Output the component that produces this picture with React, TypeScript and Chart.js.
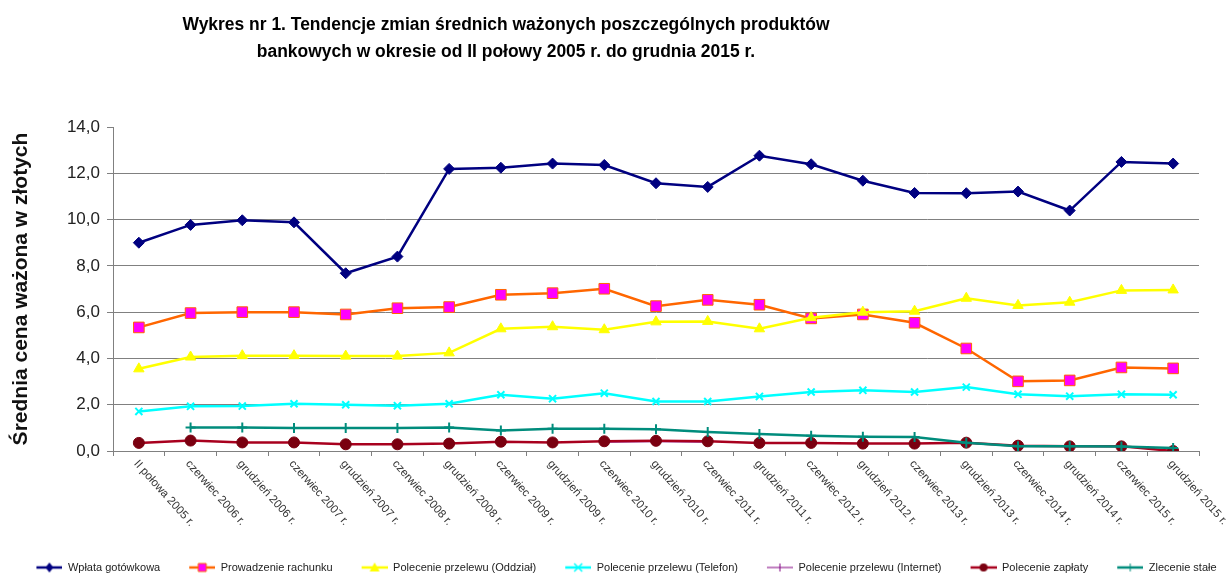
import React, { useEffect, useRef } from 'react';
import { Chart, registerables } from 'chart.js';

Chart.register(...registerables);

const titleLines = [
  'Wykres nr 1. Tendencje zmian średnich ważonych poszczególnych produktów',
  'bankowych w okresie od II połowy 2005 r. do grudnia 2015 r.',
];

const yAxisTitle = 'Średnia cena ważona w złotych';

const categories = [
  'II połowa 2005 r.', 'czerwiec 2006 r.', 'grudzień 2006 r.', 'czerwiec 2007 r.',
  'grudzień 2007 r.', 'czerwiec 2008 r.', 'grudzień 2008 r.', 'czerwiec 2009 r.',
  'grudzień 2009 r.', 'czerwiec 2010 r.', 'grudzień 2010 r.', 'czerwiec 2011 r.',
  'grudzień 2011 r.', 'czerwiec 2012 r.', 'grudzień 2012 r.', 'czerwiec 2013 r.',
  'grudzień 2013 r.', 'czerwiec 2014 r.', 'grudzień 2014 r.', 'czerwiec 2015 r.',
  'grudzień 2015 r.',
];

const seriesNames = [
  'Wpłata gotówkowa',
  'Prowadzenie rachunku',
  'Polecenie przelewu (Oddział)',
  'Polecenie przelewu (Telefon)',
  'Polecenie przelewu (Internet)',
  'Polecenie zapłaty',
  'Zlecenie stałe',
];

const wplataGotowkowa = [9.0, 9.77, 9.97, 9.88, 7.68, 8.4, 12.19, 12.24, 12.42, 12.36, 11.57, 11.41, 12.76, 12.39, 11.68, 11.15, 11.14, 11.21, 10.39, 12.49, 12.42];
const prowadzenieRachunku = [5.34, 5.96, 6.0, 6.0, 5.9, 6.17, 6.22, 6.75, 6.82, 7.01, 6.26, 6.53, 6.32, 5.73, 5.9, 5.54, 4.43, 3.01, 3.05, 3.61, 3.57];
const przelewOddzial = [3.55, 4.06, 4.12, 4.12, 4.1, 4.1, 4.24, 5.28, 5.37, 5.24, 5.58, 5.6, 5.28, 5.76, 6.0, 6.04, 6.6, 6.29, 6.43, 6.94, 6.96];
const przelewTelefon = [1.71, 1.93, 1.94, 2.04, 2.0, 1.96, 2.04, 2.43, 2.26, 2.5, 2.14, 2.14, 2.36, 2.55, 2.62, 2.55, 2.76, 2.45, 2.37, 2.45, 2.43];
const przelewInternet = [null, null, null, null, null, null, null, null, null, 0.38, 0.4, 0.38, null, null, null, null, null, null, null, null, null];
const polecenieZaplaty = [0.35, 0.45, 0.37, 0.37, 0.29, 0.29, 0.32, 0.4, 0.37, 0.42, 0.44, 0.42, 0.35, 0.35, 0.32, 0.32, 0.36, 0.23, 0.2, 0.2, 0.0];
const zlecenieStale = [null, 1.02, 1.02, 0.99, 0.99, 0.99, 1.02, 0.89, 0.96, 0.96, 0.94, 0.82, 0.73, 0.66, 0.62, 0.6, 0.36, 0.2, 0.2, 0.19, 0.13];

const seriesValues = [wplataGotowkowa, prowadzenieRachunku, przelewOddzial, przelewTelefon, przelewInternet, polecenieZaplaty, zlecenieStale];

const styles = [
  { line: '#000080', fill: '#000080', stroke: '#000080', point: 'rectRot', radius: 5.5, width: 2.5, legend: 'diamond' },
  { line: '#FF6600', fill: '#FF00FF', stroke: '#FF6600', point: 'rect', radius: 7.5, width: 2.5, legend: 'square' },
  { line: '#FFFF00', fill: '#FFFF00', stroke: '#FFFF00', point: 'triangle', radius: 6, width: 2.5, legend: 'triangle' },
  { line: '#00FFFF', fill: '#00FFFF', stroke: '#00FFFF', point: 'crossRot', radius: 5, width: 2.5, legend: 'x' },
  { line: '#800080', fill: '#800080', stroke: '#800080', point: 'cross', radius: 4, width: 1, legend: 'plus' },
  { line: '#A8001E', fill: '#7A0010', stroke: '#7A0010', point: 'circle', radius: 5.5, width: 2.5, legend: 'circle' },
  { line: '#008C7C', fill: '#008C7C', stroke: '#008C7C', point: 'cross', radius: 5, width: 2.5, legend: 'plus' },
];

const FONT = '"Liberation Sans", Arial, sans-serif';
const GRID = '#808080';
const ICON_W = 51;

function makeLegendIcon(s: any): HTMLCanvasElement {
  const c = document.createElement('canvas');
  c.width = ICON_W;
  c.height = 14;
  const g = c.getContext('2d')!;
  const cy = 7;
  const x1 = ICON_W;
  const x0 = x1 - 26;
  const cx = (x0 + x1) / 2;
  g.strokeStyle = s.line;
  g.lineWidth = s.width >= 2 ? 2.5 : 1;
  g.beginPath();
  g.moveTo(x0, cy);
  g.lineTo(x1, cy);
  g.stroke();
  g.fillStyle = s.fill;
  g.strokeStyle = s.stroke;
  g.lineWidth = 1.5;
  g.beginPath();
  switch (s.legend) {
    case 'diamond':
      g.moveTo(cx, cy - 5); g.lineTo(cx + 4, cy); g.lineTo(cx, cy + 5); g.lineTo(cx - 4, cy); g.closePath(); g.fill();
      break;
    case 'square':
      g.rect(cx - 4, cy - 4, 8, 8); g.fill(); g.lineWidth = 1; g.stroke();
      break;
    case 'triangle':
      g.moveTo(cx, cy - 5); g.lineTo(cx + 5, cy + 4); g.lineTo(cx - 5, cy + 4); g.closePath(); g.fill();
      break;
    case 'x':
      g.moveTo(cx - 4, cy - 4); g.lineTo(cx + 4, cy + 4); g.moveTo(cx + 4, cy - 4); g.lineTo(cx - 4, cy + 4); g.stroke();
      break;
    case 'plus':
      g.lineWidth = 1;
      g.moveTo(cx, cy - 4); g.lineTo(cx, cy + 4); g.stroke();
      break;
    case 'circle':
      g.arc(cx, cy, 4, 0, Math.PI * 2); g.fill();
      break;
  }
  return c;
}

const titlePlugin = {
  id: 'customTitle',
  afterDraw(chart: any) {
    const ctx = chart.ctx;
    ctx.save();
    ctx.font = `bold 18px ${FONT}`;
    ctx.fillStyle = '#000';
    ctx.textAlign = 'center';
    ctx.textBaseline = 'alphabetic';
    const w1 = ctx.measureText(titleLines[0]).width;
    const sx = 647 / w1;
    titleLines.forEach((line, i) => {
      ctx.save();
      ctx.translate(506, i === 0 ? 30 : 57);
      ctx.scale(sx, 1);
      ctx.fillText(line, 0, 0);
      ctx.restore();
    });
    ctx.restore();
  },
};

const xLabelPlugin = {
  id: 'diagXLabels',
  afterDraw(chart: any) {
    const xs = chart.scales.x;
    const ctx = chart.ctx;
    ctx.save();
    ctx.font = `11.5px ${FONT}`;
    ctx.fillStyle = '#333';
    ctx.textAlign = 'left';
    ctx.textBaseline = 'middle';
    categories.forEach((lab, i) => {
      const x = xs.getPixelForValue(i);
      ctx.save();
      ctx.translate(x - 3, xs.top + 11);
      ctx.rotate((48 * Math.PI) / 180);
      ctx.fillText(lab, 0, 0);
      ctx.restore();
    });
    ctx.restore();
  },
};

const legendShiftPlugin = {
  id: 'legendShift',
  afterLayout(chart: any) {
    const lg = chart.legend;
    if (lg) {
      lg.top += 6;
      lg.bottom += 6;
    }
  },
};

export default function App() {
  const ref = useRef<HTMLCanvasElement>(null);

  useEffect(() => {
    const icons = styles.map((s) => makeLegendIcon(s));
    const datasets = seriesNames.map((name, i) => {
      const s = styles[i];
      return {
        label: name,
        data: seriesValues[i],
        borderColor: s.line,
        backgroundColor: s.fill,
        borderWidth: s.width,
        pointStyle: s.point,
        pointRadius: s.radius,
        pointBackgroundColor: s.fill,
        pointBorderColor: s.stroke,
        pointBorderWidth: s.point === 'cross' || s.point === 'crossRot' ? 2 : 1,
        tension: 0,
        spanGaps: false,
        yAxisID: 'y',
        order: seriesNames.length - i,
      };
    });

    const chart = new Chart(ref.current!, {
      type: 'line',
      data: { labels: categories, datasets: datasets as any },
      plugins: [titlePlugin, xLabelPlugin, legendShiftPlugin],
      options: {
        animation: false,
        responsive: true,
        maintainAspectRatio: false,
        layout: { padding: { top: 127, right: 0, left: 0, bottom: 2 } },
        plugins: {
          title: { display: false },
          tooltip: { enabled: false },
          legend: {
            position: 'bottom',
            labels: {
              usePointStyle: true,
              pointStyleWidth: ICON_W,
              boxHeight: 11,
              padding: 4,
              color: '#222',
              font: { family: FONT, size: 11 },
              generateLabels: () =>
                seriesNames.map((name, i) => ({
                  text: name,
                  fillStyle: styles[i].fill,
                  strokeStyle: styles[i].line,
                  lineWidth: 0,
                  hidden: false,
                  datasetIndex: i,
                  pointStyle: icons[i] as any,
                  fontColor: '#222',
                })),
            },
          },
        },
        scales: {
          x: {
            type: 'category',
            offset: true,
            grid: { display: true, drawOnChartArea: false, offset: true, tickLength: 5, color: GRID },
            border: { color: GRID, width: 1 },
            ticks: { display: false },
            afterFit: (s: any) => { s.height = 101; },
          },
          y: {
            min: 0,
            max: 14,
            ticks: {
              stepSize: 2,
              color: '#222',
              padding: 7,
              font: { family: FONT, size: 17 },
              callback: (v: any) => Number(v).toFixed(1).replace('.', ','),
            },
            grid: {
              color: (c: any) => (c.tick && c.tick.value === 14 ? 'rgba(0,0,0,0)' : GRID),
              tickColor: GRID,
              tickLength: 6,
            },
            border: { color: GRID, width: 1 },
            title: {
              display: true,
              text: yAxisTitle,
              color: '#111',
              font: { family: FONT, size: 21, weight: 'bold' },
              padding: { top: 9, bottom: 0 },
            },
            afterFit: (s: any) => { s.width = 113; },
          },
          yRight: {
            axis: 'y',
            type: 'linear',
            position: 'right',
            display: true,
            grid: { display: false, drawTicks: false },
            border: { display: false },
            ticks: { display: false },
            afterFit: (s: any) => { s.width = 29; },
          },
        },
      } as any,
    });
    return () => chart.destroy();
  }, []);

  return (
    <div style={{ position: 'fixed', left: 0, top: 0, width: 1228, height: 579, background: '#fff' }}>
      <canvas ref={ref} />
    </div>
  );
}
